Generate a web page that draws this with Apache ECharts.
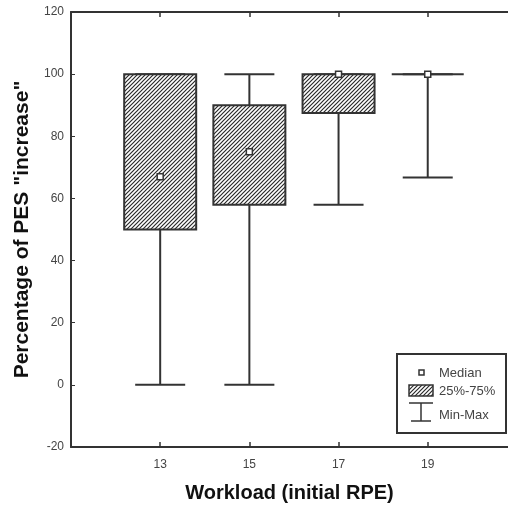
<!DOCTYPE html>
<html>
<head>
<meta charset="utf-8">
<script src="https://cdn.jsdelivr.net/npm/echarts@6/dist/echarts.min.js"></script>
<style>
html, body { margin: 0; padding: 0; background: #fff; }
#chart { width: 508px; height: 510px; }
</style>
</head>
<body>
<div id="chart"></div>
<script>
// values
const workload = [13, 15, 17, 19];
const minVals = [0, 0, 58, 66.7];
const q1Vals = [50, 58, 87.5, 100];
const medianVals = [67, 75, 100, 100];
const q3Vals = [100, 90, 100, 100];
const maxVals = [100, 100, 100, 100];
const yTicks = [-20, 0, 20, 40, 60, 80, 100, 120];
const legendLabels = ['Median', '25%-75%', 'Min-Max'];

const ink = '#333';
const font = 'Liberation Sans, Arial, sans-serif';

// diagonal hatch tile
function makeHatch() {
    const c = document.createElement('canvas');
    c.width = 4;
    c.height = 4;
    const ctx = c.getContext('2d');
    ctx.fillStyle = '#fff';
    ctx.fillRect(0, 0, 4, 4);
    ctx.strokeStyle = '#2a2a2a';
    ctx.lineWidth = 1.2;
    ctx.beginPath();
    ctx.moveTo(-1, 5); ctx.lineTo(5, -1);
    ctx.moveTo(-1, 1); ctx.lineTo(1, -1);
    ctx.moveTo(3, 5); ctx.lineTo(5, 3);
    ctx.stroke();
    return c;
}
const hatch = { image: makeHatch(), repeat: 'repeat' };

const boxData = workload.map((w, i) => [w, minVals[i], q1Vals[i], medianVals[i], q3Vals[i], maxVals[i]]);

const chart = echarts.init(document.getElementById('chart'));

function renderBox(params, api) {
    const x = api.value(0);
    const pMin = api.coord([x, api.value(1)]);
    const pQ1 = api.coord([x, api.value(2)]);
    const pMed = api.coord([x, api.value(3)]);
    const pQ3 = api.coord([x, api.value(4)]);
    const pMax = api.coord([x, api.value(5)]);
    const boxW = 72, capW = 50, m = 6;
    const cx = pMin[0];
    const line = (x1, y1, x2, y2) => ({
        type: 'line',
        shape: { x1, y1, x2, y2 },
        style: { stroke: ink, lineWidth: 2 }
    });
    const children = [
        line(cx, pMin[1], cx, pQ1[1]),
        line(cx - capW / 2, pMin[1], cx + capW / 2, pMin[1]),
        line(cx, pQ3[1], cx, pMax[1]),
        line(cx - capW / 2, pMax[1], cx + capW / 2, pMax[1]),
        {
            type: 'rect',
            shape: { x: cx - boxW / 2, y: pQ3[1], width: boxW, height: pQ1[1] - pQ3[1] },
            style: { fill: hatch, stroke: ink, lineWidth: 2 }
        },
        {
            type: 'rect',
            shape: { x: cx - m / 2, y: pMed[1] - m / 2, width: m, height: m },
            style: { fill: '#fff', stroke: ink, lineWidth: 1.5 }
        }
    ];
    return { type: 'group', children };
}

const xAxisBase = {
    type: 'value',
    min: 11,
    max: 20.8,
    interval: 2,
    splitLine: { show: false },
    axisLine: { onZero: false, lineStyle: { color: ink, width: 2 } },
    axisTick: { inside: true, length: 5, customValues: workload, lineStyle: { color: ink, width: 1.5 } }
};

const legendX = 396, legendY = 353;
const option = {
    animation: false,
    backgroundColor: '#fff',
    textStyle: { fontFamily: font },
    grid: { left: 71, top: 12, right: 0, bottom: 63 },
    xAxis: [Object.assign({}, xAxisBase, {
        position: 'bottom',
        name: 'Workload (initial RPE)',
        nameLocation: 'middle',
        nameGap: 36,
        nameTextStyle: { fontSize: 20, fontWeight: 'bold', color: '#111' },
        axisLabel: { customValues: workload, fontSize: 12, color: '#444', margin: 12 }
    }), Object.assign({}, xAxisBase, {
        position: 'top',
        axisLabel: { show: false }
    })],
    yAxis: {
        type: 'value',
        min: -20,
        max: 120,
        interval: 20,
        name: 'Percentage of PES "increase"',
        nameLocation: 'middle',
        nameGap: 37,
        nameTextStyle: { fontSize: 21, fontWeight: 'bold', color: '#111' },
        axisLine: { show: true, onZero: false, lineStyle: { color: ink, width: 2 } },
        axisTick: { show: true, inside: true, length: 4, customValues: yTicks, lineStyle: { color: ink, width: 1 } },
        axisLabel: { fontSize: 12, color: '#444', margin: 7 },
        splitLine: { show: false }
    },
    series: [{
        type: 'custom',
        renderItem: renderBox,
        data: boxData,
        encode: { x: 0, y: [1, 2, 3, 4, 5] },
        z: 5
    }],
    graphic: [{
        type: 'group',
        left: legendX,
        top: legendY,
        children: [
            { type: 'rect', shape: { x: 0, y: 0, width: 109, height: 79 }, style: { fill: '#fff', stroke: ink, lineWidth: 2 } },
            { type: 'rect', shape: { x: 22, y: 16, width: 5, height: 5 }, style: { fill: '#fff', stroke: ink, lineWidth: 1.5 } },
            { type: 'text', x: 42, y: 19, style: { text: legendLabels[0], fontSize: 13, fill: '#444', verticalAlign: 'middle', fontFamily: font } },
            { type: 'rect', shape: { x: 12, y: 31, width: 24, height: 11 }, style: { fill: hatch, stroke: ink, lineWidth: 1.5 } },
            { type: 'text', x: 42, y: 37, style: { text: legendLabels[1], fontSize: 13, fill: '#444', verticalAlign: 'middle', fontFamily: font } },
            { type: 'line', shape: { x1: 12, y1: 49, x2: 36, y2: 49 }, style: { stroke: ink, lineWidth: 1.5 } },
            { type: 'line', shape: { x1: 24, y1: 49, x2: 24, y2: 67 }, style: { stroke: ink, lineWidth: 1.5 } },
            { type: 'line', shape: { x1: 14, y1: 67, x2: 34, y2: 67 }, style: { stroke: ink, lineWidth: 1.5 } },
            { type: 'text', x: 42, y: 61, style: { text: legendLabels[2], fontSize: 13, fill: '#444', verticalAlign: 'middle', fontFamily: font } }
        ]
    }]
};

chart.setOption(option);
</script>
</body>
</html>
